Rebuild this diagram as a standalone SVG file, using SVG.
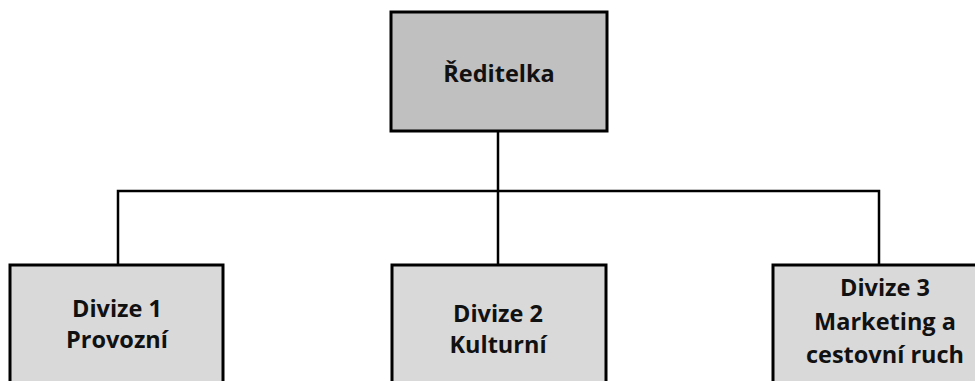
<svg xmlns="http://www.w3.org/2000/svg" width="975" height="381" viewBox="0 0 975 381">
<style>
.box{stroke:#000;stroke-width:3}
.top{fill:#c0c0c0}
.sub{fill:#d9d9d9}
.t{font-family:"Open Sans","Liberation Sans",sans-serif;font-weight:bold;font-size:23.5px;fill:#111;text-anchor:middle}
.c{fill:none;stroke:#000;stroke-width:2.5}
</style>
<rect width="975" height="381" fill="#fff"/>
<g id="connectors">
<path class="c" d="M498 132 V191"/>
<path class="c" d="M118 264 V191 H879 V264"/>
<path class="c" d="M498 191 V264"/>
</g>
<g id="reditelka">
<rect class="box top" x="391" y="12" width="216" height="119"/>
<text class="t" x="499" y="82">Ředitelka</text>
</g>
<g id="divize1">
<rect class="box sub" x="10" y="265" width="213" height="130"/>
<text class="t" x="117" y="317">Divize 1</text>
<text class="t" x="117" y="348">Provozní</text>
</g>
<g id="divize2">
<rect class="box sub" x="392" y="265" width="214" height="130"/>
<text class="t" x="498" y="322">Divize 2</text>
<text class="t" x="498" y="353">Kulturní</text>
</g>
<g id="divize3">
<rect class="box sub" x="773" y="265" width="216" height="130"/>
<text class="t" x="885" y="296">Divize 3</text>
<text class="t" x="885" y="330">Marketing a</text>
<text class="t" x="885" y="363">cestovní ruch</text>
</g>
</svg>
